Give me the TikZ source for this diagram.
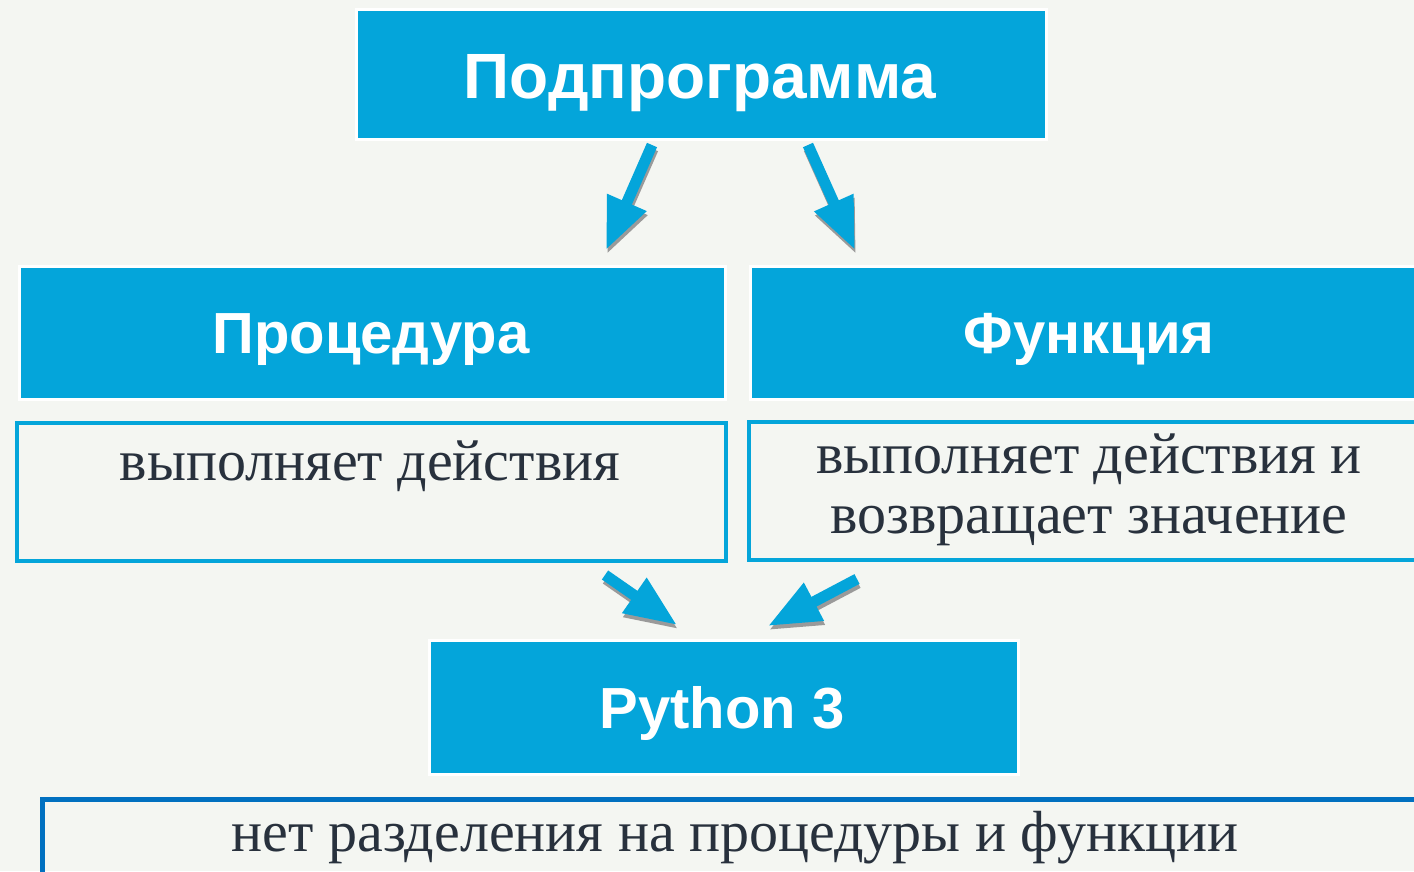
\documentclass[tikz,border=0pt]{standalone}
\usepackage{fontspec}
\setmainfont{Liberation Serif}
\newfontfamily\headfont{Liberation Sans}
\newfontfamily\descfont{Liberation Serif}
\usetikzlibrary{arrows.meta}
\definecolor{bg}{HTML}{F4F6F2}
\definecolor{boxblue}{HTML}{04A5DA}
\definecolor{darkblue}{HTML}{0070C0}
\definecolor{txt}{HTML}{28313D}
\definecolor{shadowgray}{HTML}{9A9A9A}
\begin{document}
\begin{tikzpicture}[x=1pt,y=-1pt,
  headbox/.style={draw=white, line width=3pt, fill=boxblue, inner sep=0pt, anchor=north west},
  headtext/.style={text=white, font=\headfont\bfseries\fontsize{58}{64}\selectfont, anchor=base, inner sep=0pt},
  desctext/.style={text=txt, font=\descfont\fontsize{58}{64}\selectfont, anchor=base, inner sep=0pt},
  descbox/.style={draw=boxblue, line width=4pt, fill=none, inner sep=0pt, anchor=north west},
  bigarrow/.style={draw=boxblue, line width=11pt, -{Triangle[width=40pt,length=52pt]}},
  arrowshadow/.style={draw=shadowgray, line width=11pt, -{Triangle[width=40pt,length=52pt]}}
]
\path[use as bounding box, fill=bg] (0,0) rectangle (1414,871);
\clip (0,0) rectangle (1414,871);

% boxes
\node[headbox, minimum width=690pt, minimum height=130pt] (top) at (355,8) {};
\node[headtext, font=\headfont\bfseries\fontsize{64}{70}\selectfont] (toptext) at (700,98) {Подпрограмма};

\node[headbox, minimum width=706pt, minimum height=133pt] (proc) at (18,265) {};
\node[headtext] (proctext) at (371,353) {Процедура};

\node[headbox, minimum width=681pt, minimum height=133pt] (func) at (749,265) {};
\node[headtext] (functext) at (1089,353) {Функция};

\node[descbox, minimum width=709pt, minimum height=138pt] (d1) at (15,421) {};
\node[desctext] (d1text) at (370,480) {выполняет действия};

\node[descbox, minimum width=683pt, minimum height=138pt] (d2) at (747,420) {};
\node[desctext] (d2texta) at (1089,473) {выполняет действия и};
\node[desctext] (d2textb) at (1089,533) {возвращает значение};

\node[headbox, minimum width=589pt, minimum height=134pt] (py) at (428,639) {};
\node[headtext] (pytext) at (722,728) {Python 3};

\node[draw=darkblue, line width=5pt, inner sep=0pt, anchor=north west, minimum width=1400pt, minimum height=120pt] (bot) at (40,797) {};
\node[desctext] (bottext) at (735,851) {нет разделения на процедуры и функции};

% arrow end points
\coordinate (a1s) at (652,145);
\coordinate (a1e) at (606,250);
\coordinate (a2s) at (808,145);
\coordinate (a2e) at (855,250);
\coordinate (a3s) at (605,575);
\coordinate (a3e) at (677,625);
\coordinate (a4s) at (857,579);
\coordinate (a4e) at (768,626);

\foreach \s/\e in {a1s/a1e, a2s/a2e, a3s/a3e, a4s/a4e}{
  \draw[arrowshadow] ([shift={(1,4)}]\s) -- ([shift={(1,4)}]\e);
}
\foreach \s/\e in {a1s/a1e, a2s/a2e, a3s/a3e, a4s/a4e}{
  \draw[bigarrow] (\s) -- (\e);
}
\end{tikzpicture}
\end{document}
